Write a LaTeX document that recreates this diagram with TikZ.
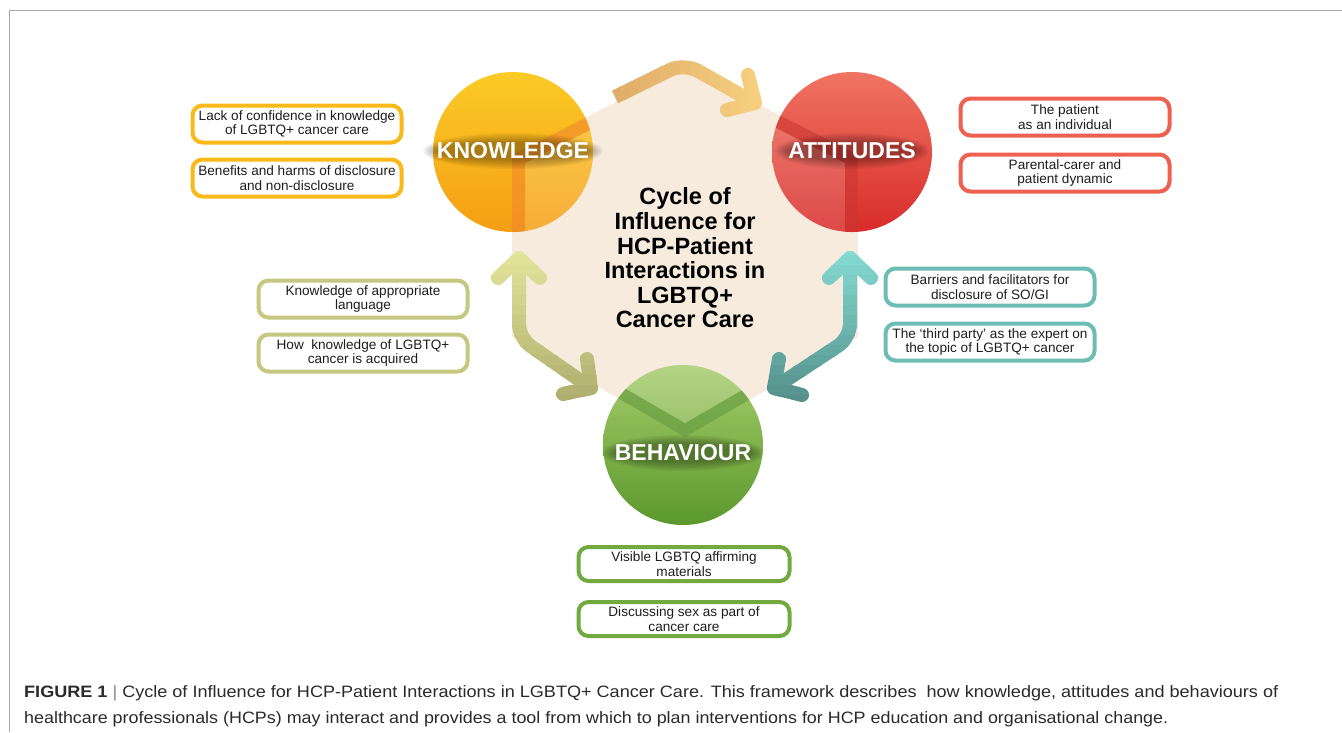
\documentclass[tikz,border=0pt]{standalone}
\usepackage{fontspec}
\setmainfont{Liberation Sans}
\usepackage{graphicx}
\usetikzlibrary{calc}

\definecolor{hexcol}{HTML}{F6EBDD}
\definecolor{kyel}{HTML}{F9B918}
\definecolor{ared}{HTML}{EE6151}
\definecolor{lolive}{HTML}{C6C781}
\definecolor{rteal}{HTML}{6EBDB4}
\definecolor{bgreen}{HTML}{72AA40}
\definecolor{ktop}{HTML}{FBCB26}
\definecolor{kbot}{HTML}{F59E14}
\definecolor{kline}{HTML}{F07A10}
\definecolor{atop}{HTML}{F07462}
\definecolor{abot}{HTML}{D82C2A}
\definecolor{aline}{HTML}{C41A18}
\definecolor{btop}{HTML}{A6CD6C}
\definecolor{bbot}{HTML}{5A982C}
\definecolor{bline}{HTML}{4A8A22}
\definecolor{txt}{HTML}{1E1E1E}
\definecolor{capcol}{HTML}{2A2A2A}
\definecolor{capbar}{HTML}{8A8A8A}
\definecolor{framecol}{HTML}{A8A8A8}
\definecolor{taL}{HTML}{DFAA68}
\definecolor{taR}{HTML}{F8D480}
\definecolor{laT}{HTML}{E3E69C}
\definecolor{laB}{HTML}{B0AD6E}
\definecolor{raT}{HTML}{84DCD4}
\definecolor{raB}{HTML}{55908A}

\tikzset{
  infobox/.style={draw=#1, line width=4pt, rounded corners=10pt, fill=white,
    minimum width=209pt, minimum height=37pt, align=center, inner sep=0pt,
    text=txt, font=\fontsize{13.6pt}{14.6pt}\selectfont},
  bubble/.style 2 args={circle, minimum size=160pt, inner sep=0pt,
    top color=#1, bottom color=#2, draw=none},
  bublabel/.style={text=white, font=\fontsize{23pt}{24pt}\selectfont\bfseries, inner sep=0pt},
  arrowline/.style={line width=14pt, line cap=round, line join=round, draw=#1},
}

\newcommand\glowpad[3]{%
  \foreach \k in {0,...,8}{%
    \fill[black, opacity=0.04]
      (#1) ellipse[x radius={#2+14-1.6*\k}, y radius={#3+10-1.1*\k}];
  }%
}

\begin{document}
\begin{tikzpicture}[x=1pt, y=-1pt]
\useasboundingbox (0,0) rectangle (1342,732);
\fill[white] (0,0) rectangle (1342,732);

% frame
\draw[framecol, line width=1.3pt] (9.5,732) -- (9.5,10.5) -- (1342,10.5);

% hexagon
\coordinate (hT) at (685,67);
\coordinate (hUL) at (512,155);
\coordinate (hLL) at (512,337);
\coordinate (hB) at (685,437);
\coordinate (hLR) at (858,337);
\coordinate (hUR) at (858,155);
\fill[hexcol] (hT) -- (hUL) -- (hLL) -- (hB) -- (hLR) -- (hUR) -- cycle;

% top arrow (Knowledge -> Attitudes)
\coordinate (tL) at (615,97);
\coordinate (tC) at (684,63);
\coordinate (tR) at (755,103);
\coordinate (tR1) at (748,75);
\coordinate (tR2) at (727,110);
\foreach \i in {0,...,17}{
  \pgfmathsetmacro{\p}{100*(1-\i/17)}
  \begin{scope}
    \clip ({600+10*\i},40) rectangle ({611+10*\i},130);
    \draw[arrowline=taL!\p!taR, line cap=butt, rounded corners=16pt] (tL) -- (tC) -- (tR);
    \draw[arrowline=taL!\p!taR] (tR1) -- (tR) -- (tR2);
  \end{scope}
}

% left arrow (Knowledge <-> Behaviour)
\coordinate (lT) at (519,258);
\coordinate (lC) at (519,338);
\coordinate (lB) at (591,388);
\coordinate (lT1) at (498,278);
\coordinate (lT2) at (540,278);
\coordinate (lB1) at (563,394);
\coordinate (lB2) at (587,359);
% right arrow (Attitudes <-> Behaviour)
\coordinate (rT) at (850,258);
\coordinate (rC) at (850,338);
\coordinate (rB) at (774,388);
\coordinate (rT1) at (829,278);
\coordinate (rT2) at (871,278);
\coordinate (rB1) at (779,359);
\coordinate (rB2) at (802,395);
\foreach \i in {0,...,15}{
  \pgfmathsetmacro{\p}{100*(1-\i/15)}
  \begin{scope}
    \clip (470,{245+10*\i}) rectangle (620,{256+10*\i});
    \draw[arrowline=laT!\p!laB, rounded corners=14pt] (lT) -- (lC) -- (lB);
    \draw[arrowline=laT!\p!laB] (lT1) -- (lT) -- (lT2);
    \draw[arrowline=laT!\p!laB] (lB1) -- (lB) -- (lB2);
  \end{scope}
  \begin{scope}
    \clip (750,{245+10*\i}) rectangle (890,{256+10*\i});
    \draw[arrowline=raT!\p!raB, rounded corners=14pt] (rT) -- (rC) -- (rB);
    \draw[arrowline=raT!\p!raB] (rT1) -- (rT) -- (rT2);
    \draw[arrowline=raT!\p!raB] (rB1) -- (rB) -- (rB2);
  \end{scope}
}

% circles
\node[bubble={ktop}{kbot}] (know) at (513,152) {};
\node[bubble={atop}{abot}] (att) at (852,152) {};
\node[bubble={btop}{bbot}] (beh) at (683,445) {};

\begin{scope}
  \clip (know.center) circle[radius=80pt];
  \clip (hT) -- (hUL) -- (hLL) -- (hB) -- (hLR) -- (hUR) -- cycle;
  \fill[white, opacity=0.16] (know.center) circle[radius=80pt];
  \draw[kline, opacity=0.55, line width=26pt] (hT) -- (hUL) -- (hLL) -- (hB) -- (hLR) -- (hUR) -- cycle;
\end{scope}
\begin{scope}
  \clip (att.center) circle[radius=80pt];
  \clip (hT) -- (hUL) -- (hLL) -- (hB) -- (hLR) -- (hUR) -- cycle;
  \fill[white, opacity=0.14] (att.center) circle[radius=80pt];
  \draw[aline, opacity=0.5, line width=26pt] (hT) -- (hUL) -- (hLL) -- (hB) -- (hLR) -- (hUR) -- cycle;
\end{scope}
\begin{scope}
  \clip (beh.center) circle[radius=80pt];
  \clip (hT) -- (hUL) -- (hLL) -- (hB) -- (hLR) -- (hUR) -- cycle;
  \fill[white, opacity=0.16] (beh.center) circle[radius=80pt];
  \draw[bline, opacity=0.5, line width=24pt] (hT) -- (hUL) -- (hLL) -- (hB) -- (hLR) -- (hUR) -- cycle;
\end{scope}

% circle labels
\glowpad{513,151}{76}{8}
\glowpad{852,151}{63}{8}
\glowpad{683,453}{68}{8}
\node[bublabel] (knowlabel) at (513,151) {KNOWLEDGE};
\node[bublabel] (attlabel) at (852,151) {ATTITUDES};
\node[bublabel] (behlabel) at (683,453) {BEHAVIOUR};

% centre title
\node[align=center, inner sep=0pt, text=black,
      font=\fontsize{23.5pt}{24.6pt}\selectfont\bfseries] (title) at (685,258)
  {Cycle of\\Influence for\\HCP-Patient\\Interactions in\\LGBTQ+\\Cancer Care};

% boxes
\node[infobox=kyel] (k1) at (297,124) {Lack of confidence in knowledge\\of LGBTQ+ cancer care};
\node[infobox=kyel] (k2) at (297,178) {Benefits and harms of disclosure\\and non-disclosure};
\node[infobox=ared] (a1) at (1065,117) {The patient\\as an individual};
\node[infobox=ared] (a2) at (1065,173) {Parental-carer and\\patient dynamic};
\node[infobox=lolive] (l1) at (363,299) {Knowledge of appropriate\\language};
\node[infobox=lolive] (l2) at (363,353) {How\ \ knowledge of LGBTQ+\\cancer is acquired};
\node[infobox=rteal] (r1) at (990,287) {Barriers and facilitators for\\disclosure of SO/GI};
\node[infobox=rteal] (r2) at (990,342) {The ‘third party’ as the expert on\\the topic of LGBTQ+ cancer};
\node[infobox=bgreen, minimum height=34pt, minimum width=211pt] (b1) at (684,564) {Visible LGBTQ affirming\\materials};
\node[infobox=bgreen, minimum height=34pt, minimum width=211pt] (b2) at (684,619) {Discussing sex as part of\\cancer care};

% caption
\node[anchor=base west, inner sep=0pt, text=capcol] (cap1) at (24,697)
  {\resizebox{1254pt}{\height}{\fontsize{16.5pt}{20pt}\selectfont\textbf{FIGURE 1}\ {\color{capbar}|}\ Cycle of Influence for HCP-Patient Interactions in LGBTQ+ Cancer Care. This framework describes\ \ how knowledge, attitudes and behaviours of}};
\node[anchor=base west, inner sep=0pt, text=capcol] (cap2) at (24,723)
  {\resizebox{1144pt}{\height}{\fontsize{16.5pt}{20pt}\selectfont healthcare professionals (HCPs) may interact and provides a tool from which to plan interventions for HCP education and organisational change.}};
\end{tikzpicture}
\end{document}
